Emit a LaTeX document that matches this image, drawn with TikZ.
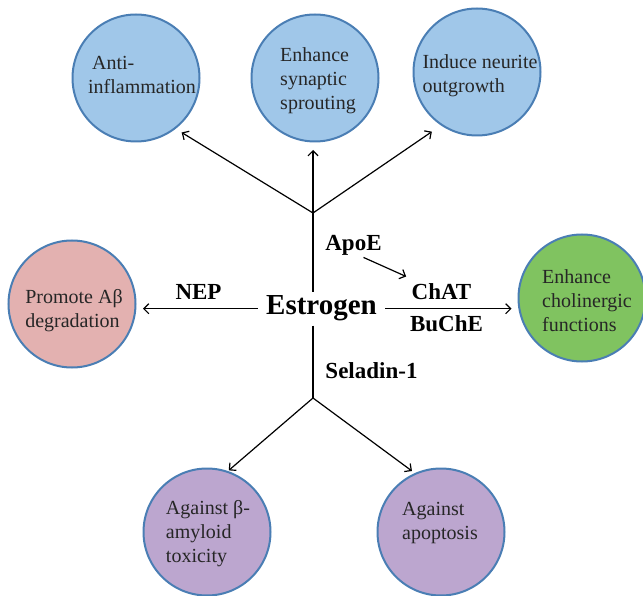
\documentclass[tikz,border=0pt]{standalone}
\usepackage{fontspec}
\setmainfont{Liberation Serif}
\usetikzlibrary{arrows.meta}
\definecolor{rim}{RGB}{74,126,180}
\definecolor{skyfill}{RGB}{160,199,233}
\definecolor{rosefill}{RGB}{227,177,176}
\definecolor{leaffill}{RGB}{128,195,96}
\definecolor{lilacfill}{RGB}{188,166,207}
\tikzset{
effect/.style={circle,draw=rim,line width=2pt,minimum size=127pt,inner sep=0pt},
effecttext/.style={align=left,font=\fontsize{20}{24}\selectfont,text=black!85},
factor/.style={anchor=base,font=\fontsize{23}{28}\selectfont\bfseries},
link/.style={line width=1.2pt,-{Straight Barb[length=5pt,width=10pt]}}
}
\begin{document}
\begin{tikzpicture}[x=1pt,y=-1pt]
\useasboundingbox (0,0) rectangle (643,596);
\pgfmathsetmacro{\vx}{313}
\node[effect,fill=skyfill](anti)at(136,78){};
\node[effect,fill=skyfill](sprout)at(315,78){};
\node[effect,fill=skyfill](neurite)at(477,72){};
\node[effect,fill=rosefill](degrade)at(72,304){};
\node[effect,fill=leaffill](cholin)at(582,298){};
\node[effect,fill=lilacfill](amyloid)at(207,532){};
\node[effect,fill=lilacfill](apopt)at(441,532){};
\node[effecttext](antitext)at(142,75){\hspace*{4pt}Anti-\\inflammation};
\node[effecttext](sprouttext)at(318,81){Enhance\\synaptic\\sprouting};
\node[effecttext](neuritetext)at(480,76){Induce neurite\\outgrowth};
\node[effecttext](degradetext)at(74,311){Promote Aβ\\degradation};
\node[effecttext](cholintext)at(587,301){Enhance\\cholinergic\\functions};
\node[effecttext](amyloidtext)at(208,534){Against β-\\amyloid\\toxicity};
\node[effecttext](apopttext)at(440,523){Against\\apoptosis};
\node[anchor=base,font=\fontsize{29}{34}\selectfont\bfseries,inner xsep=8pt,inner ysep=4pt](estrogen)at(321.5,315){Estrogen};
\node[factor](apoe)at(353.5,251){ApoE};
\node[factor](nep)at(198.5,300){NEP};
\node[factor](chat)at(441.5,300){ChAT};
\node[factor](buche)at(446.5,331){BuChE};
\node[factor](seladin)at(371.5,378){Seladin-1};
\coordinate(up)at(\vx,213);
\coordinate(down)at(\vx,398);
\draw[line width=1.2pt](estrogen.north -| up)--(up);
\draw[line width=1.2pt](estrogen.south -| down)--(down);
\draw[link,shorten >=7pt](up)--(anti.-52);
\draw[link,shorten >=7.5pt](up)--(sprout.south -| up);
\draw[link,shorten >=11pt](up)--(neurite.-124);
\draw[link,shorten >=1pt](down)--(amyloid.71);
\draw[link,shorten >=3.5pt](down)--(apopt.114);
\draw[link,shorten >=6.5pt](estrogen.west)--(estrogen.west -| degrade.east);
\draw[link,shorten >=6pt](estrogen.east)--(estrogen.east -| cholin.west);
\draw[link]([xshift=10pt,yshift=2pt]apoe.south)--([xshift=-2pt,yshift=4pt]chat.north west);
\end{tikzpicture}
\end{document}
